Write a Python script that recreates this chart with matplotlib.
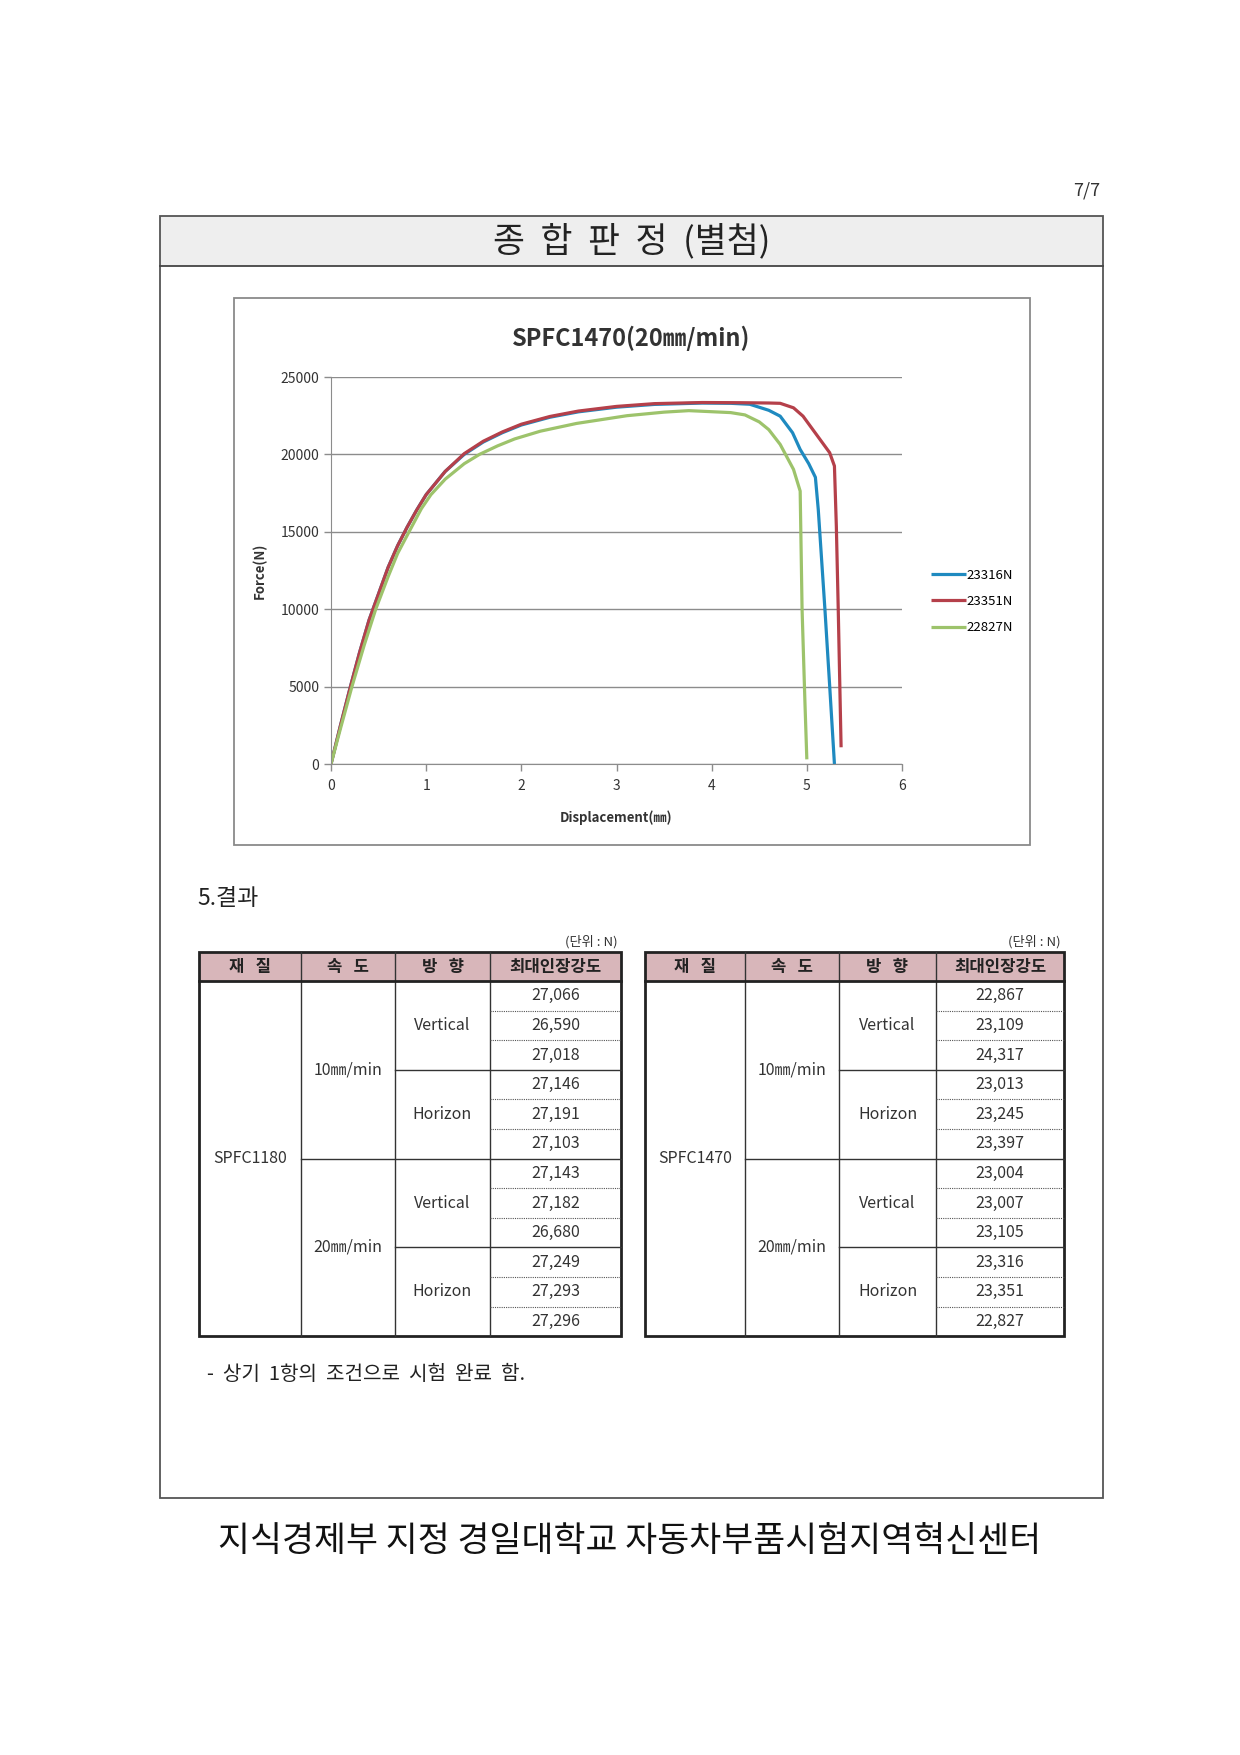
import matplotlib
matplotlib.use('Agg')
import matplotlib.pyplot as plt
from matplotlib.patches import Rectangle

plt.rcParams['font.family'] = ['Noto Sans CJK KR', 'DejaVu Sans']

# ---------------------------------------------------------------- data ---
# force-displacement curves (mm, N)
disp_a = [0, 0.1, 0.2, 0.3, 0.4, 0.5, 0.6, 0.7, 0.8, 0.9, 1.0, 1.2, 1.4, 1.6, 1.8, 2.0,
          2.3, 2.6, 3.0, 3.4, 3.9, 4.2, 4.4, 4.6, 4.72, 4.85, 4.93, 5.02, 5.09, 5.12,
          5.19, 5.24, 5.29]
force_a = [0, 2500, 4900, 7200, 9300, 11000, 12700, 14100, 15300, 16400, 17400, 18900,
           20000, 20800, 21400, 21900, 22400, 22750, 23050, 23230, 23316, 23300, 23240,
           22850, 22470, 21400, 20320, 19400, 18520, 16450, 10000, 5050, 0]

disp_b = [0, 0.1, 0.2, 0.3, 0.4, 0.5, 0.6, 0.7, 0.8, 0.9, 1.0, 1.2, 1.4, 1.6, 1.8, 2.0,
          2.3, 2.6, 3.0, 3.4, 3.9, 4.3, 4.6, 4.72, 4.86, 4.96, 5.10, 5.24, 5.29, 5.31,
          5.33, 5.36]
force_b = [0, 2500, 4900, 7200, 9300, 11000, 12700, 14100, 15300, 16400, 17400, 18900,
           20050, 20850, 21450, 21950, 22450, 22800, 23100, 23280, 23351, 23340, 23320,
           23300, 23010, 22470, 21290, 20110, 19250, 15370, 10000, 1080]

disp_c = [0, 0.1, 0.22, 0.35, 0.47, 0.6, 0.7, 0.82, 0.95, 1.05, 1.2, 1.4, 1.56, 1.75,
          1.93, 2.2, 2.58, 3.11, 3.5, 3.76, 4.2, 4.35, 4.5, 4.6, 4.72, 4.86, 4.93, 4.95,
          4.98, 5.0]
force_c = [0, 2300, 5000, 7700, 10000, 12100, 13600, 15000, 16500, 17400, 18400, 19400,
           20000, 20550, 21000, 21500, 22000, 22500, 22730, 22827, 22700, 22550, 22100,
           21600, 20645, 19030, 17630, 10000, 4000, 300]

legend_labels = ['23316N', '23351N', '22827N']
line_colors = ['#1f8ac0', '#b5404a', '#9dc36b']

x_ticks = [0, 1, 2, 3, 4, 5, 6]
y_ticks = [0, 5000, 10000, 15000, 20000, 25000]

table_header = ['재   질', '속   도', '방   향', '최대인장강도']
speeds = ['10㎜/min', '20㎜/min']
directions = ['Vertical', 'Horizon', 'Vertical', 'Horizon']
materials = ['SPFC1180', 'SPFC1470']
values_1180 = ['27,066', '26,590', '27,018', '27,146', '27,191', '27,103',
               '27,143', '27,182', '26,680', '27,249', '27,293', '27,296']
values_1470 = ['22,867', '23,109', '24,317', '23,013', '23,245', '23,397',
               '23,004', '23,007', '23,105', '23,316', '23,351', '22,827']

# ---------------------------------------------------------------- page ---
W, H = 1240, 1755
fig = plt.figure(figsize=(W / 100, H / 100), dpi=100)
fig.patch.set_facecolor('white')

page = fig.add_axes([0, 0, 1, 1])
page.set_xlim(0, W)
page.set_ylim(H, 0)
page.axis('off')

page.text(1100, 190, '7/7', ha='right', va='center', fontsize=13, color='#333')

# outer frame + header band
page.add_patch(Rectangle((160, 216), 943, 50, facecolor='#eeeeee', edgecolor='none'))
page.add_patch(Rectangle((160, 216), 943, 1282, facecolor='none', edgecolor='#555', lw=1.3))
page.plot([160, 1103], [266, 266], color='#444', lw=1.3)
page.text(632, 241, '종  합  판  정  (별첨)', ha='center', va='center', fontsize=25,
          color='#222')

# chart frame
page.add_patch(Rectangle((234, 298), 796, 547, facecolor='none', edgecolor='#8a8a8a', lw=1.3))

page.text(197, 898, '5.결과', ha='left', va='center', fontsize=16.5, color='#222')


def draw_table(x_cols, material, values):
    top, head_bot, rh = 952, 981, 29.6
    bottom = head_bot + 12 * rh
    page.add_patch(Rectangle((x_cols[0], top), x_cols[-1] - x_cols[0], head_bot - top,
                             facecolor='#d8b6ba', edgecolor='none'))
    page.text(x_cols[-1] - 3, top - 10, '(단위 : N)', ha='right', va='center',
              fontsize=9.5, color='#333')
    for i, label in enumerate(table_header):
        page.text((x_cols[i] + x_cols[i + 1]) / 2, (top + head_bot) / 2, label,
                  ha='center', va='center', fontsize=12, fontweight='bold', color='#222')
    # column lines
    for xc in x_cols[1:-1]:
        page.plot([xc, xc], [top, bottom], color='#333', lw=1.0)
    # row lines
    for i in range(1, 12):
        y = head_bot + i * rh
        if i == 6:
            page.plot([x_cols[1], x_cols[4]], [y, y], color='#333', lw=1.0)
        elif i % 3 == 0:
            page.plot([x_cols[2], x_cols[4]], [y, y], color='#333', lw=1.0)
        else:
            page.plot([x_cols[3], x_cols[4]], [y, y], color='#555', lw=0.8,
                      linestyle=(0, (1, 1)))
    page.plot([x_cols[0], x_cols[-1]], [head_bot, head_bot], color='#222', lw=2)
    page.add_patch(Rectangle((x_cols[0], top), x_cols[-1] - x_cols[0], bottom - top,
                             facecolor='none', edgecolor='#222', lw=2))
    # cell texts
    page.text((x_cols[0] + x_cols[1]) / 2, (head_bot + bottom) / 2, material,
              ha='center', va='center', fontsize=11.5, color='#333')
    for g, sp in enumerate(speeds):
        page.text((x_cols[1] + x_cols[2]) / 2, head_bot + (g * 6 + 3) * rh, sp,
                  ha='center', va='center', fontsize=11.5, color='#333')
    for g, d in enumerate(directions):
        page.text((x_cols[2] + x_cols[3]) / 2, head_bot + (g * 3 + 1.5) * rh, d,
                  ha='center', va='center', fontsize=11.5, color='#333')
    for r, v in enumerate(values):
        page.text((x_cols[3] + x_cols[4]) / 2, head_bot + (r + 0.5) * rh, v,
                  ha='center', va='center', fontsize=11.5, color='#333')


draw_table([199, 301, 395, 490, 621], materials[0], values_1180)
draw_table([645, 745, 839, 936, 1064], materials[1], values_1470)

page.text(207, 1375, '-  상기  1항의  조건으로  시험  완료  함.', ha='left', va='center',
          fontsize=14.5, color='#222')
page.text(630, 1542, '지식경제부 지정 경일대학교 자동차부품시험지역혁신센터',
          ha='center', va='center', fontsize=25, color='#111')

# --------------------------------------------------------------- chart ---
ax = fig.add_axes([331 / W, 1 - 764 / H, 571 / W, 387 / H])
ax.patch.set_alpha(0)
for d, f, c, lab in zip([disp_a, disp_b, disp_c], [force_a, force_b, force_c],
                        line_colors, legend_labels):
    ax.plot(d, f, color=c, lw=2.3, label=lab, solid_capstyle='butt')

ax.set_xlim(0, 6)
ax.set_ylim(0, 25000)
ax.set_xticks(x_ticks)
ax.set_yticks(y_ticks)
ax.grid(axis='y', color='#8c8c8c', lw=1.0)
ax.set_axisbelow(True)
for s in ['top', 'right']:
    ax.spines[s].set_visible(False)
for s in ['left', 'bottom']:
    ax.spines[s].set_color('#8c8c8c')
ax.tick_params(colors='#8c8c8c', labelcolor='#333', labelsize=10, length=5, width=1)
ax.tick_params(axis='x', pad=6)
ax.set_title('SPFC1470(20㎜/min)', fontsize=17, fontweight='bold', color='#333', pad=22,
             x=0.525)
ax.set_xlabel('Displacement(㎜)', fontsize=9.5, fontweight='bold', color='#333', labelpad=12)
ax.set_ylabel('Force(N)', fontsize=9.5, fontweight='bold', color='#333', labelpad=10)
ax.legend(frameon=False, loc='center left', bbox_to_anchor=(1.04, 0.42), fontsize=9.5,
          handlelength=2.6, handletextpad=0.05, labelspacing=1.0, borderpad=0)

fig.savefig('out.png', dpi=100)
